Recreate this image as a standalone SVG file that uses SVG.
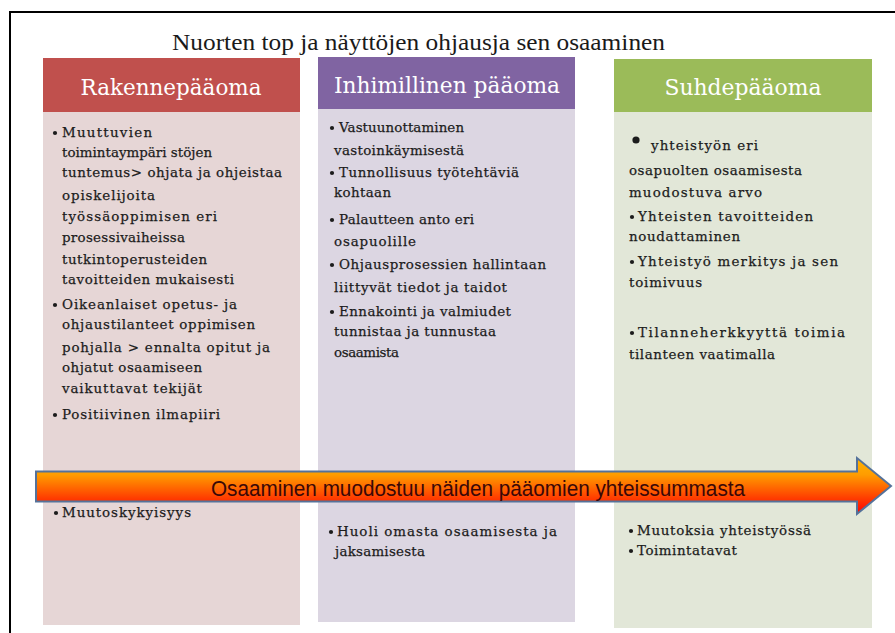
<svg xmlns="http://www.w3.org/2000/svg" width="895" height="633" viewBox="0 0 895 633">
  <style>
    .frame { fill: none; stroke: #000; stroke-width: 2; }
    .title { font-family: "Liberation Serif", "DejaVu Serif", serif; font-size: 23px; fill: #1a1a1a; }
    .head { font-family: "DejaVu Serif", "Liberation Serif", serif; font-size: 21.5px; fill: #ffffff; text-anchor: middle; }
    .txt { font-family: "DejaVu Serif", "Liberation Serif", serif; font-size: 13.4px; fill: #1c1c1c; stroke: #1c1c1c; stroke-width: 0.25; }
    .dot { fill: #1c1c1c; }
    .band { font-family: "Liberation Sans", "Open Sans", sans-serif; font-size: 22px; fill: #3a0808; text-anchor: middle; }
  </style>
  <defs>
    <linearGradient id="bandFill" gradientUnits="userSpaceOnUse" x1="0" y1="458" x2="0" y2="514">
      <stop offset="0" stop-color="#ffb400"/>
      <stop offset="0.3" stop-color="#ff9c00"/>
      <stop offset="0.72" stop-color="#ff3c00"/>
      <stop offset="1" stop-color="#ff0000"/>
    </linearGradient>
  </defs>

  <rect width="895" height="633" fill="#ffffff"/>
  <!-- outer frame: top and left edges only -->
  <path class="frame" d="M10 633 V12 H895"/>

  <text class="title" x="172" y="50" textLength="493" lengthAdjust="spacingAndGlyphs">Nuorten top ja näyttöjen ohjausja sen osaaminen</text>

  <!-- Rakennepääoma column -->
  <g id="rakennepaaoma">
    <rect x="43" y="112" width="257" height="513" fill="#e6d6d6"/>
    <rect x="43" y="58" width="257" height="54" fill="#c0504d"/>
    <text class="head" x="171" y="95" textLength="181" lengthAdjust="spacingAndGlyphs">Rakennepääoma</text>
    <circle class="dot" cx="55" cy="133" r="2.1"/>
    <text class="txt" x="62" y="137" textLength="90" lengthAdjust="spacing">Muuttuvien</text>
    <text class="txt" x="62" y="157" textLength="150" lengthAdjust="spacing">toimintaympäri stöjen</text>
    <text class="txt" x="62" y="177" textLength="220" lengthAdjust="spacing">tuntemus> ohjata ja ohjeistaa</text>
    <text class="txt" x="62" y="200" textLength="93" lengthAdjust="spacing">opiskelijoita</text>
    <text class="txt" x="62" y="221" textLength="155" lengthAdjust="spacing">työssäoppimisen eri</text>
    <text class="txt" x="62" y="242" textLength="123" lengthAdjust="spacing">prosessivaiheissa</text>
    <text class="txt" x="62" y="264" textLength="145" lengthAdjust="spacing">tutkintoperusteiden</text>
    <text class="txt" x="62" y="284" textLength="172" lengthAdjust="spacing">tavoitteiden mukaisesti</text>
    <circle class="dot" cx="55" cy="305" r="2.1"/>
    <text class="txt" x="62" y="309" textLength="175" lengthAdjust="spacing">Oikeanlaiset opetus- ja</text>
    <text class="txt" x="62" y="329" textLength="193" lengthAdjust="spacing">ohjaustilanteet oppimisen</text>
    <text class="txt" x="62" y="352" textLength="208" lengthAdjust="spacing">pohjalla > ennalta opitut ja</text>
    <text class="txt" x="62" y="372" textLength="140" lengthAdjust="spacing">ohjatut osaamiseen</text>
    <text class="txt" x="62" y="393" textLength="140" lengthAdjust="spacing">vaikuttavat tekijät</text>
    <circle class="dot" cx="55" cy="415" r="2.1"/>
    <text class="txt" x="62" y="419" textLength="158" lengthAdjust="spacing">Positiivinen ilmapiiri</text>
    <circle class="dot" cx="56" cy="513" r="2.1"/>
    <text class="txt" x="62" y="517" textLength="129" lengthAdjust="spacing">Muutoskykyisyys</text>
  </g>

  <!-- Inhimillinen pääoma column -->
  <g id="inhimillinen-paaoma">
    <rect x="318" y="109" width="257" height="513" fill="#dcd6e2"/>
    <rect x="318" y="57" width="257" height="52" fill="#8064a2"/>
    <text class="head" x="447" y="93" textLength="226" lengthAdjust="spacingAndGlyphs">Inhimillinen pääoma</text>
    <circle class="dot" cx="332" cy="128" r="2.1"/>
    <text class="txt" x="339" y="132" textLength="125" lengthAdjust="spacing">Vastuunottaminen</text>
    <text class="txt" x="334" y="155" textLength="130" lengthAdjust="spacing">vastoinkäymisestä</text>
    <circle class="dot" cx="332" cy="173" r="2.1"/>
    <text class="txt" x="339" y="177" textLength="180" lengthAdjust="spacing">Tunnollisuus työtehtäviä</text>
    <text class="txt" x="334" y="197" textLength="57" lengthAdjust="spacing">kohtaan</text>
    <circle class="dot" cx="332" cy="220" r="2.1"/>
    <text class="txt" x="339" y="224" textLength="135" lengthAdjust="spacing">Palautteen anto eri</text>
    <text class="txt" x="334" y="246" textLength="82" lengthAdjust="spacing">osapuolille</text>
    <circle class="dot" cx="332" cy="265" r="2.1"/>
    <text class="txt" x="339" y="269" textLength="207" lengthAdjust="spacing">Ohjausprosessien hallintaan</text>
    <text class="txt" x="334" y="292" textLength="173" lengthAdjust="spacing">liittyvät tiedot ja taidot</text>
    <circle class="dot" cx="332" cy="312" r="2.1"/>
    <text class="txt" x="339" y="316" textLength="172" lengthAdjust="spacing">Ennakointi ja valmiudet</text>
    <text class="txt" x="334" y="336" textLength="162" lengthAdjust="spacing">tunnistaa ja tunnustaa</text>
    <text class="txt" x="334" y="357" textLength="65" lengthAdjust="spacing">osaamista</text>
    <circle class="dot" cx="331" cy="532" r="2.1"/>
    <text class="txt" x="337" y="536" textLength="220" lengthAdjust="spacing">Huoli omasta osaamisesta ja</text>
    <text class="txt" x="335" y="556" textLength="90" lengthAdjust="spacing">jaksamisesta</text>
  </g>

  <!-- Suhdepääoma column -->
  <g id="suhdepaaoma">
    <rect x="614" y="112" width="258" height="516" fill="#e2e7d8"/>
    <rect x="614" y="59" width="258" height="53" fill="#9bbb59"/>
    <text class="head" x="743" y="95" textLength="157" lengthAdjust="spacingAndGlyphs">Suhdepääoma</text>
    <circle class="dot" cx="636" cy="140" r="3.6"/>
    <text class="txt" x="651" y="150" textLength="107" lengthAdjust="spacing">yhteistyön eri</text>
    <text class="txt" x="629" y="175" textLength="173" lengthAdjust="spacing">osapuolten osaamisesta</text>
    <text class="txt" x="629" y="197" textLength="133" lengthAdjust="spacing">muodostuva arvo</text>
    <circle class="dot" cx="632" cy="217" r="2.1"/>
    <text class="txt" x="638" y="221" textLength="175" lengthAdjust="spacing">Yhteisten tavoitteiden</text>
    <text class="txt" x="629" y="241" textLength="111" lengthAdjust="spacing">noudattaminen</text>
    <circle class="dot" cx="632" cy="262" r="2.1"/>
    <text class="txt" x="638" y="266" textLength="200" lengthAdjust="spacing">Yhteistyö merkitys ja sen</text>
    <text class="txt" x="629" y="287" textLength="73" lengthAdjust="spacing">toimivuus</text>
    <circle class="dot" cx="632" cy="333" r="2.1"/>
    <text class="txt" x="638" y="337" textLength="207" lengthAdjust="spacing">Tilanneherkkyyttä toimia</text>
    <text class="txt" x="629" y="359" textLength="146" lengthAdjust="spacing">tilanteen vaatimalla</text>
    <circle class="dot" cx="631" cy="531" r="2.1"/>
    <text class="txt" x="637" y="535" textLength="174" lengthAdjust="spacing">Muutoksia yhteistyössä</text>
    <circle class="dot" cx="631" cy="551" r="2.1"/>
    <text class="txt" x="637" y="555" textLength="100" lengthAdjust="spacing">Toimintatavat</text>
  </g>

  <!-- block arrow across the three columns -->
  <g id="yhteissumma">
    <path d="M36 471.5 H857 V458 L891 486 L857 514 V501.5 H36 Z" fill="url(#bandFill)" stroke="#55729a" stroke-width="2" stroke-linejoin="miter"/>
    <text class="band" x="478" y="496" textLength="534" lengthAdjust="spacingAndGlyphs">Osaaminen muodostuu näiden pääomien yhteissummasta</text>
  </g>

  <g id="connectors"/>
</svg>
